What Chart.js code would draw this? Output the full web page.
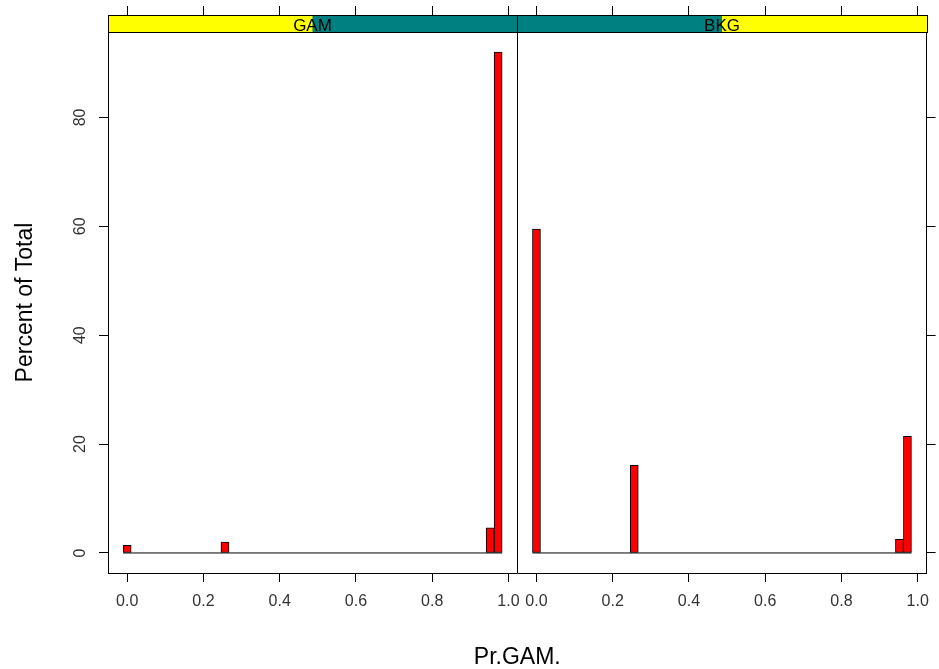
<!DOCTYPE html>
<html>
<head>
<meta charset="utf-8">
<title>Pr.GAM. histogram</title>
<script src="https://cdn.jsdelivr.net/npm/chart.js@4.4.1/dist/chart.umd.min.js"></script>
<style>
    html, body { margin: 0; padding: 0; background: #fff; }
    #wrap { width: 939px; height: 669px; }
</style>
</head>
<body>
<div id="wrap"><canvas id="histChart" width="939" height="669"></canvas></div>
<script>
// Panel levels (strip labels)
const panelLevels = ['GAM', 'BKG'];

// Histogram bins: centres and width, percent of total per panel
const binCenters = [0.0, 0.2565, 0.952, 0.973];
const binWidth = 0.021;
const gamPercent = [1.4, 2.0, 4.6, 92.0];
const bkgPercent = [59.5, 16.1, 2.5, 21.4];

// Tick labels
const xTickValues = [0, 0.2, 0.4, 0.6, 0.8, 1.0];
const yTickValues = [0, 20, 40, 60, 80];

// lattice style limits: data range padded by 4% on each side
const dataLo = binCenters[0] - binWidth / 2;
const dataHi = binCenters[binCenters.length - 1] + binWidth / 2;
const xPad = 0.04 * (dataHi - dataLo);
const xLo = dataLo - xPad;
const xHi = dataHi + xPad;
const panelSpan = xHi - xLo;
const yTop = Math.max(...gamPercent, ...bkgPercent);
const yLo = -0.04 * yTop;
const yHi = yTop * 1.04;

// both panels share one x scale, second panel shifted by one panel span
const panelValues = [gamPercent, bkgPercent];
const allXTicks = [];
panelLevels.forEach((_, p) => xTickValues.forEach(v => allXTicks.push(v + p * panelSpan)));

const setXTicks = scale => { scale.ticks = allXTicks.map(v => ({ value: v })); };
const setYTicks = scale => { scale.ticks = yTickValues.map(v => ({ value: v })); };

Chart.defaults.font.family = "'Liberation Sans', Arial, sans-serif";

// Strip headers and the panel divider
const stripPlugin = {
    id: 'latticeStrips',
    afterDraw(chart) {
        const { ctx, chartArea: area, scales: { x } } = chart;
        const stripH = 17;
        const top = area.top - stripH;
        ctx.save();
        ctx.strokeStyle = '#000';
        ctx.lineWidth = 1;
        panelLevels.forEach((level, i) => {
            const left = Math.round(x.getPixelForValue(xLo + i * panelSpan));
            const right = Math.round(x.getPixelForValue(xHi + i * panelSpan));
            const w = (right - left) / panelLevels.length;
            ctx.fillStyle = '#008080';
            ctx.fillRect(left, top, right - left, stripH);
            ctx.fillStyle = '#ffff00';
            ctx.fillRect(left + i * w, top, w, stripH);
            ctx.strokeRect(left + 0.5, top + 0.5, right - left, stripH);

            ctx.fillStyle = '#000';
            ctx.font = "17px 'Liberation Sans', Arial, sans-serif";
            ctx.textAlign = 'center';
            ctx.textBaseline = 'alphabetic';
            ctx.fillText(level, (left + right) / 2, area.top - 1);
        });

        // divider between the panels
        const divX = Math.round(x.getPixelForValue(xHi)) + 0.5;
        ctx.beginPath();
        ctx.moveTo(divX, top);
        ctx.lineTo(divX, area.bottom);
        ctx.stroke();
        ctx.restore();
    }
};

const barDatasets = panelLevels.map((level, p) => ({
    type: 'bar',
    label: level,
    data: binCenters.map((c, i) => ({ x: c + p * panelSpan, y: panelValues[p][i] })),
    backgroundColor: '#ff0000',
    borderColor: '#000',
    borderWidth: 1,
    borderSkipped: false,
    grouped: false,
    barPercentage: 1,
    categoryPercentage: 1,
    order: 1
}));

// zero line across the histogram range of each panel
const baseDatasets = panelLevels.map((level, p) => ({
    type: 'line',
    label: level + ' base',
    data: [{ x: dataLo + p * panelSpan, y: 0 }, { x: dataHi + p * panelSpan, y: 0 }],
    borderColor: '#000',
    borderWidth: 1,
    pointRadius: 0,
    order: 2
}));

new Chart(document.getElementById('histChart'), {
    type: 'bar',
    data: { datasets: [...baseDatasets, ...barDatasets] },
    plugins: [stripPlugin],
    options: {
        responsive: false,
        animation: false,
        devicePixelRatio: 1,
        layout: { padding: 0 },
        plugins: {
            legend: { display: false },
            tooltip: { enabled: false }
        },
        scales: {
            x: {
                type: 'linear',
                position: 'bottom',
                offset: false,
                min: xLo,
                max: xLo + panelLevels.length * panelSpan,
                afterBuildTicks: setXTicks,
                afterFit: s => { s.height = 96; },
                grid: { offset: false, drawOnChartArea: false, tickLength: 9, color: '#000' },
                border: { display: true, color: '#000' },
                ticks: {
                    autoSkip: false,
                    maxRotation: 0,
                    padding: 10,
                    color: '#333',
                    font: { size: 16 },
                    callback: value => (value >= xHi ? value - panelSpan : value).toFixed(1)
                },
                title: {
                    display: true,
                    text: 'Pr.GAM.',
                    color: '#000',
                    font: { size: 23, lineHeight: 1 },
                    padding: { top: 0, bottom: 0 }
                }
            },
            xTop: {
                type: 'linear',
                position: 'top',
                offset: false,
                min: xLo,
                max: xLo + panelLevels.length * panelSpan,
                afterBuildTicks: setXTicks,
                afterFit: s => { s.height = 32; },
                grid: { offset: false, drawOnChartArea: false, tickLength: 26, color: '#000' },
                border: { display: true, color: '#000' },
                ticks: { display: false }
            },
            y: {
                type: 'linear',
                position: 'left',
                min: yLo,
                max: yHi,
                afterBuildTicks: setYTicks,
                afterFit: s => { s.width = 108; },
                grid: { drawOnChartArea: false, tickLength: 9, color: '#000' },
                border: { display: true, color: '#000' },
                ticks: {
                    minRotation: 90,
                    maxRotation: 90,
                    crossAlign: 'center',
                    padding: 10,
                    color: '#333',
                    font: { size: 16 }
                },
                title: {
                    display: true,
                    text: 'Percent of Total',
                    color: '#000',
                    font: { size: 23, lineHeight: 1 },
                    padding: { top: 14, bottom: 0 }
                }
            },
            yRight: {
                type: 'linear',
                position: 'right',
                min: yLo,
                max: yHi,
                afterBuildTicks: setYTicks,
                afterFit: s => { s.width = 11; },
                grid: { drawOnChartArea: false, tickLength: 9, color: '#000' },
                border: { display: true, color: '#000' },
                ticks: { display: false }
            }
        }
    }
});
</script>
</body>
</html>
